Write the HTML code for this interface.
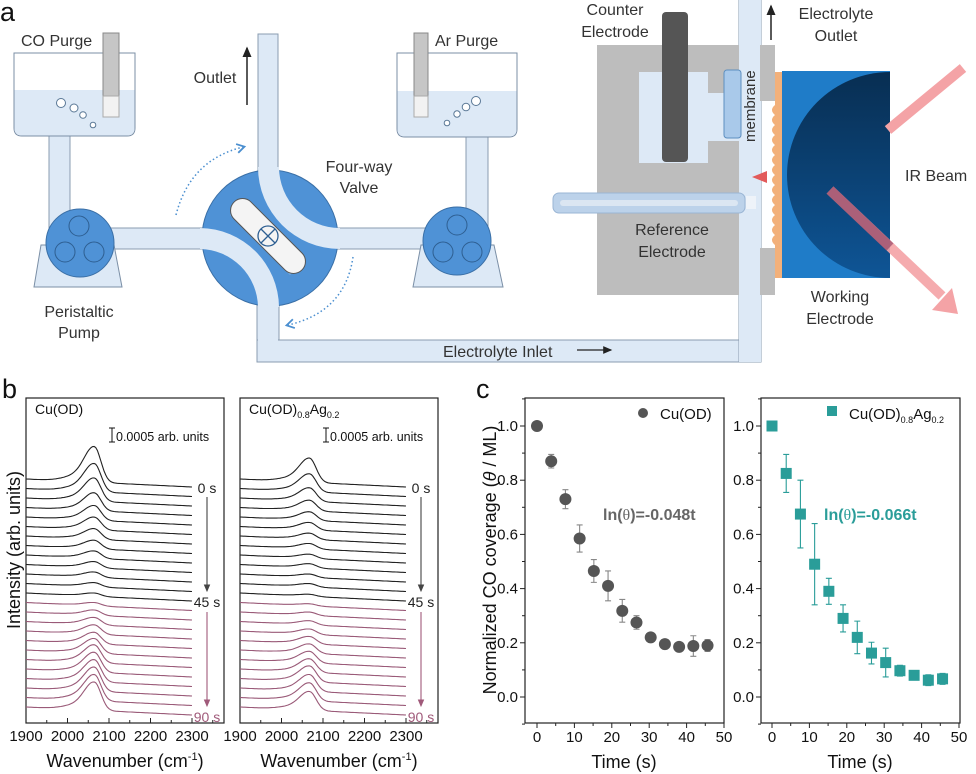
<!DOCTYPE html>
<html><head><meta charset="utf-8"><style>
html,body{margin:0;padding:0;background:#fff}
svg{display:block;font-family:"Liberation Sans",Arial,sans-serif}
</style></head><body>
<svg id="fig" width="976" height="774" viewBox="0 0 976 774" xmlns="http://www.w3.org/2000/svg">
<defs>
<linearGradient id="wg" x1="0" y1="0" x2="0" y2="1"><stop offset="0" stop-color="#082e52"/><stop offset="1" stop-color="#0e5596"/></linearGradient>
<marker id="ah" markerWidth="8" markerHeight="8" refX="6" refY="4" orient="auto"><path d="M0,1 L7,4 L0,7 z" fill="#222"/></marker>
<marker id="ahb" markerWidth="8" markerHeight="8" refX="5" refY="4" orient="auto"><path d="M1,1 L6,4 L1,7" fill="none" stroke="#4b8fd0" stroke-width="1.2"/></marker>
<marker id="ahp" markerWidth="8" markerHeight="8" refX="6" refY="4" orient="auto"><path d="M0,1 L7,4 L0,7 z" fill="#a05a7a"/></marker>
<marker id="ahg" markerWidth="8" markerHeight="8" refX="6" refY="4" orient="auto"><path d="M0,1 L7,4 L0,7 z" fill="#444"/></marker>
</defs>

<!-- PANEL A -->
<g font-size="16" fill="#333">
<text x="0" y="21" font-size="27" fill="#111">a</text>
<g fill="#dde9f6" stroke="#8a9cb0" stroke-width="1">
<rect x="49" y="134" width="21" height="95"/>
<rect x="466" y="135" width="22" height="95"/>
<rect x="110" y="228" width="95" height="21"/>
<rect x="330" y="228" width="100" height="21"/>
<rect x="258" y="34" width="20" height="140"/>
<rect x="257" y="300" width="22" height="62"/>
<rect x="257" y="340" width="504" height="22"/>
<rect x="739" y="0" width="22" height="362"/>
</g>
<rect x="258" y="338" width="20" height="5" fill="#dde9f6"/>
<rect x="740" y="338" width="20" height="24" fill="#dde9f6"/>
<g>
<path d="M14,53 H135 V128 Q135,136 127,136 H22 Q14,136 14,128 Z" fill="#fff" stroke="#7b8fa6"/>
<path d="M14.5,90 H134.5 V128 Q134.5,135.5 127,135.5 H22 Q14.5,135.5 14.5,128 Z" fill="#dde9f6"/>
<rect x="103" y="33" width="16" height="64" fill="#c6c6c6" stroke="#888"/>
<rect x="103" y="96" width="16" height="21" fill="#f2f2f2" stroke="#aaa"/>
<g fill="#fff" stroke="#5a7896"><circle cx="61" cy="103" r="4.5"/><circle cx="74" cy="108" r="4"/><circle cx="83" cy="115" r="3.3"/><circle cx="93" cy="125" r="2.8"/></g>
<text x="21" y="46">CO Purge</text>
</g>
<g>
<path d="M397,53 H517 V129 Q517,137 509,137 H405 Q397,137 397,129 Z" fill="#fff" stroke="#7b8fa6"/>
<path d="M397.5,91 H516.5 V129 Q516.5,136.5 509,136.5 H405 Q397.5,136.5 397.5,129 Z" fill="#dde9f6"/>
<rect x="414" y="33" width="14" height="64" fill="#c6c6c6" stroke="#888"/>
<rect x="414" y="96" width="14" height="21" fill="#f2f2f2" stroke="#aaa"/>
<g fill="#fff" stroke="#5a7896"><circle cx="476" cy="101" r="4.5"/><circle cx="466" cy="107" r="3.8"/><circle cx="457" cy="114" r="3.2"/><circle cx="447" cy="123" r="2.8"/></g>
<text x="435" y="46">Ar Purge</text>
</g>
<g>
<path d="M41,245 L34,287 L122,287 L114,245 Z" fill="#dde9f6" stroke="#7b8fa6"/>
<circle cx="80" cy="243" r="34" fill="#4f92d6" stroke="#3a6fa6"/>
<g fill="none" stroke="#2e5f92"><circle cx="79" cy="226" r="10"/><circle cx="65" cy="252" r="10"/><circle cx="94" cy="252" r="10"/></g>
<text x="79" y="317" text-anchor="middle">Peristaltic</text><text x="79" y="338" text-anchor="middle">Pump</text>
</g>
<g>
<path d="M421,245 L413,287 L503,287 L494,245 Z" fill="#dde9f6" stroke="#7b8fa6"/>
<circle cx="457" cy="241" r="34" fill="#4f92d6" stroke="#3a6fa6"/>
<g fill="none" stroke="#2e5f92"><circle cx="457" cy="225" r="10"/><circle cx="443" cy="252" r="10"/><circle cx="472" cy="252" r="10"/></g>
</g>
<g>
<circle cx="270" cy="238" r="68" fill="#4f92d6" stroke="#3a6fa6"/>
<path d="M258,167 A82,82 0 0 0 340,249 L340,228 A61,61 0 0 1 279,167 Z" fill="#dde9f6"/>
<path d="M200,228 A80,80 0 0 1 279,307 L258,307 A59,59 0 0 0 200,249 Z" fill="#dde9f6"/>
<path d="M240,205 L300,265 L290,275 L230,215 Z" fill="#8ab8e6" opacity="0.7"/>
<g transform="rotate(45 268 236)"><rect x="220" y="224" width="96" height="24" rx="12" fill="#f4f4f4" stroke="#555"/></g>
<circle cx="268" cy="236" r="10" fill="none" stroke="#2e5f92" stroke-width="1.3"/>
<path d="M261,229 L275,243 M275,229 L261,243" stroke="#2e5f92" stroke-width="1.3"/>
<path d="M176,215 Q190,160 243,147" fill="none" stroke="#4b8fd0" stroke-width="1.5" stroke-dasharray="1.5,2.5" marker-end="url(#ahb)"/>
<path d="M353,257 Q345,312 288,325" fill="none" stroke="#4b8fd0" stroke-width="1.5" stroke-dasharray="1.5,2.5" marker-end="url(#ahb)"/>
<text x="359" y="172" text-anchor="middle">Four-way</text><text x="359" y="193" text-anchor="middle">Valve</text>
</g>
<line x1="247" y1="105" x2="247" y2="48" stroke="#222" stroke-width="1.5" marker-end="url(#ah)"/>
<text x="215" y="83" text-anchor="middle">Outlet</text>
<text x="443" y="357">Electrolyte Inlet</text>
<line x1="577" y1="350" x2="611" y2="350" stroke="#222" stroke-width="1.3" marker-end="url(#ah)"/>
<g>
<rect x="597" y="45" width="142" height="250" fill="#bdbdbd"/>
<rect x="639" y="72" width="69" height="91" fill="#dde9f6"/>
<rect x="708" y="45" width="31" height="48" fill="#bdbdbd"/>
<rect x="708" y="93" width="31" height="48" fill="#dde9f6"/>
<rect x="739" y="0" width="22" height="362" fill="#dde9f6"/>
<rect x="760" y="45" width="15" height="56" fill="#bdbdbd"/>
<rect x="760" y="248" width="15" height="47" fill="#bdbdbd"/>
<rect x="662" y="12" width="26" height="150" rx="4" fill="#555"/>
<rect x="724" y="70" width="17" height="68" rx="3" fill="#a9c9ea" stroke="#5d8fc0"/>
<rect x="775" y="72" width="8" height="206" fill="#f2b07a"/>
<path d="M775,105 q-6,5 0,10 q-6,5 0,10 q-6,5 0,10 q-6,5 0,10 q-6,5 0,10 q-6,5 0,10 q-6,5 0,10 q-6,5 0,10 q-6,5 0,10 q-6,5 0,10 q-6,5 0,10 q-6,5 0,10 q-6,5 0,10 q-6,5 0,10" fill="#f2b07a"/>
<rect x="782" y="71" width="108" height="207" fill="#1f7cc8"/>
<path d="M890,72 A103,103 0 0 0 890,278 Z" fill="url(#wg)"/>
<path d="M752,177 L767,171 L767,183 Z" fill="#e25a5a"/>
<rect x="553" y="193" width="192" height="20" rx="6" fill="#bcd2ea" stroke="#9ab5d4"/>
<rect x="560" y="200" width="178" height="6" rx="3" fill="#dbe6f2"/>
<rect x="746" y="196" width="10" height="13" fill="#eef3f9"/>
<line x1="963" y1="68" x2="888" y2="130" stroke="#f4a3a6" stroke-width="10"/>
<line x1="830" y1="190" x2="942" y2="296" stroke="#f4a3a6" stroke-width="10" opacity="0.9"/>
<line x1="830" y1="190" x2="890" y2="247" stroke="#8b3a5e" stroke-width="10" opacity="0.6"/>
<path d="M932,310 L958,314 L952,288 Z" fill="#f4a3a6"/>
<line x1="771" y1="40" x2="771" y2="6" stroke="#222" stroke-width="1.5" marker-end="url(#ah)"/>
<text x="615" y="15" text-anchor="middle">Counter</text><text x="615" y="37" text-anchor="middle">Electrode</text>
<text x="836" y="19" text-anchor="middle">Electrolyte</text><text x="836" y="41" text-anchor="middle">Outlet</text>
<text x="672" y="235" text-anchor="middle">Reference</text><text x="672" y="257" text-anchor="middle">Electrode</text>
<text x="840" y="302" text-anchor="middle">Working</text><text x="840" y="324" text-anchor="middle">Electrode</text>
<text x="905" y="181">IR Beam</text>
<text transform="translate(755,142) rotate(-90)" font-size="15">membrane</text>
</g>
</g>

<g id="pb"></g>
<g id="pc"></g>
</svg>
<script>
// ---- panel b data: peak intensities (x1e-4 arb. units), 0..45 s then 45..90 s
const bBlackLeft = [12.1,9.6,7.9,6.1,5.0,4.3,3.6,2.9,2.5,2.1,1.8,1.4,1.1];
const bPurpleLeft = [1.1,1.8,2.5,3.2,3.9,5.0,6.1,6.8,7.5,8.2,8.9,9.6];
const bBlackRight = [8.2,6.1,4.6,3.6,2.9,2.5,2.1,1.8,1.4,1.4,1.1,1.1,0.7];
const bPurpleRight = [0.7,1.1,1.4,1.8,2.5,3.2,3.9,4.6,5.4,5.7,6.1,6.4];
const bTicks = [1900,2000,2100,2200,2300];
// ---- panel c data
const cTime = [0,3.8,7.6,11.4,15.2,19,22.8,26.6,30.4,34.2,38,41.8,45.6];
const cCuOD = [1.0,0.87,0.73,0.585,0.465,0.41,0.318,0.275,0.22,0.195,0.185,0.188,0.19];
const cCuODErr = [0,0.025,0.035,0.05,0.042,0.055,0.042,0.025,0.015,0.01,0.01,0.038,0.022];
const cCuAg = [1.0,0.825,0.675,0.49,0.39,0.29,0.22,0.162,0.127,0.097,0.08,0.062,0.067];
const cCuAgErr = [0,0.07,0.125,0.15,0.048,0.05,0.06,0.04,0.053,0.02,0.01,0.02,0.02];
const cYTicks = [0.0,0.2,0.4,0.6,0.8,1.0];
const cXTicks = [0,10,20,30,40,50];

const NS='http://www.w3.org/2000/svg';
function mk(tag,attrs,parent,txt){const e=document.createElementNS(NS,tag);for(const k in attrs)e.setAttribute(k,attrs[k]);if(txt!==undefined)e.textContent=txt;parent.appendChild(e);return e;}

const pb=document.getElementById('pb');
const lb=mk('text',{x:2,y:398,'font-size':27,fill:'#111'},pb,'b');


const yl=mk('text',{transform:'translate(20,550) rotate(-90)','text-anchor':'middle','font-size':18,fill:'#111'},pb,'Intensity (arb. units)');



function spectraPanel(x0,black,purple,title,center,isRight){
  const g=mk('g',{},pb);
  
  
  const xs=w=>x0+(w-1900)*0.415;
  const fr=mk('rect',{x:x0,y:398,width:198,height:325,fill:'none',stroke:'#222','stroke-width':1.2},g);
  
  
  for(let w=1900;w<=2375;w+=50){const maj=(w%100===0);mk('line',{x1:xs(w),x2:xs(w),y1:723,y2:723-(maj?5:3),stroke:'#222'},g);}
  bTicks.forEach(w=>{const t=mk('text',{x:xs(w),y:741,'text-anchor':'middle','font-size':15,fill:'#111'},g,String(w));
    
    });
  const xt=mk('text',{x:x0+99,y:767,'text-anchor':'middle','font-size':18,fill:'#111'},g);
  
  
  xt.innerHTML='Wavenumber (cm<tspan dy="-7" font-size="11">-1</tspan><tspan dy="7">)</tspan>';
  const tt=mk('text',{x:x0+9,y:414,'font-size':14,fill:'#111'},g);
  
  
  tt.innerHTML=title;
  const sb=x0+86;
  mk('path',{d:`M${sb-3},428 H${sb+3} M${sb},428 V442 M${sb-3},442 H${sb+3}`,stroke:'#111',fill:'none'},g);
  const st=mk('text',{x:sb+4,y:441,'font-size':12.5,fill:'#111'},g,'0.0005 arb. units');
  
  
  const all=black.map(v=>[v,'#222']).concat(purple.map(v=>[v,'#9a5a78']));
  all.forEach((a,i)=>{
    let d='';
    for(let w=1900;w<=2300;w+=4){
      const s=w<center?34:22;
      const p=Math.exp(-Math.pow((w-center)/s,2))+0.15*Math.exp(-Math.pow((w-center+45)/45,2));
      const y=479+i*9.5+8*(w-1900)/400-a[0]*2.8*p;
      d+=(w===1900?'M':'L')+xs(w).toFixed(1)+','+y.toFixed(1);
    }
    const pth=mk('path',{d:d,fill:'none',stroke:a[1],'stroke-width':1.1},g);
    
    
  });
  const lx=xs(2300)+15;
  const t0=mk('text',{x:lx,y:493,'text-anchor':'middle','font-size':14,fill:'#222'},g,'0 s');
  
  
  mk('line',{x1:lx,y1:497,x2:lx,y2:591,stroke:'#444','stroke-width':1.1,'marker-end':'url(#ahg)'},g);
  const t45=mk('text',{x:lx,y:607,'text-anchor':'middle','font-size':14,fill:'#222'},g,'45 s');
  
  
  mk('line',{x1:lx,y1:612,x2:lx,y2:706,stroke:'#a05a7a','stroke-width':1.1,'marker-end':'url(#ahp)'},g);
  const t90=mk('text',{x:lx,y:722,'text-anchor':'middle','font-size':14,fill:'#a05a7a'},g,'90 s');
  
  
}
spectraPanel(26,bBlackLeft,bPurpleLeft,'Cu(OD)',2065,false);
spectraPanel(240,bBlackRight,bPurpleRight,'Cu(OD)<tspan dy="4" font-size="9">0.8</tspan><tspan dy="-4">Ag</tspan><tspan dy="4" font-size="9">0.2</tspan>',2068,true);

const pc=document.getElementById('pc');
const lc=mk('text',{x:476,y:398,'font-size':27,fill:'#111'},pc,'c');


const cyl=mk('text',{transform:'translate(496,560) rotate(-90)','text-anchor':'middle','font-size':18,fill:'#111'},pc);


cyl.innerHTML='Normalized CO coverage (<tspan font-style="italic">θ</tspan> / ML)';

function covPanel(fx,x0,vals,errs,color,square,legendHTML,eq,isRight){
  const g=mk('g',{},pc);
  
  
  const xs=t=>x0+t*3.74, ys=v=>697-v*271;
  const fr=mk('rect',{x:fx,y:398,width:199,height:325,fill:'none',stroke:'#222','stroke-width':1.2},g);
  
  
  for(let k=-1;k<=11;k++){const v=k/10;const maj=(k%2===0&&k>=0);mk('line',{x1:fx,x2:fx-(maj?5:3),y1:ys(v),y2:ys(v),stroke:'#222'},g);}
  for(let t=0;t<=50;t+=5){const maj=(t%10===0);mk('line',{x1:xs(t),x2:xs(t),y1:723,y2:723+(maj?5:3),stroke:'#222'},g);}
  cYTicks.forEach(v=>{const e=mk('text',{x:fx-7,y:ys(v)+5,'text-anchor':'end','font-size':15,fill:'#111'},g,v.toFixed(1));
    
    });
  cXTicks.forEach(t=>{const e=mk('text',{x:xs(t),y:742,'text-anchor':'middle','font-size':15,fill:'#111'},g,String(t));
    
    });
  const xt=mk('text',{x:fx+99,y:768,'text-anchor':'middle','font-size':18,fill:'#111'},g,'Time (s)');
  
  
  cTime.forEach((t,i)=>{
    if(errs[i]>0){
      const ec=square?color:'#888';
      const eb=mk('path',{d:`M${xs(t)},${ys(vals[i]-errs[i])} V${ys(vals[i]+errs[i])} M${xs(t)-3},${ys(vals[i]-errs[i])} H${xs(t)+3} M${xs(t)-3},${ys(vals[i]+errs[i])} H${xs(t)+3}`,stroke:ec,'stroke-width':1.1,fill:'none'},g);
      
      
    }
    let m;
    if(square) m=mk('rect',{x:xs(t)-5.5,y:ys(vals[i])-5.5,width:11,height:11,fill:color},g);
    else m=mk('circle',{cx:xs(t),cy:ys(vals[i]),r:6,fill:color},g);
    
    
  });
  const lg=mk('g',{},g);
  
  
  if(square) mk('rect',{x:fx+66,y:406,width:10,height:10,fill:color},lg);
  else mk('circle',{cx:fx+118,cy:413,r:5,fill:color},lg);
  const ltx=mk('text',{x:square?fx+88:fx+135,y:419,'font-size':15,fill:'#111'},lg);
  ltx.innerHTML=legendHTML;
  const et=mk('text',{x:square?fx+63:fx+78,y:520,'font-size':16,'font-weight':'bold',fill:square?color:'#666'},g);
  
  
  et.innerHTML=eq;
}
covPanel(525,537,cCuOD,cCuODErr,'#555',false,'Cu(OD)','ln(<tspan font-family="Liberation Serif" font-weight="normal">θ</tspan>)=-0.048t',false);
covPanel(761,772,cCuAg,cCuAgErr,'#2a9d99',true,'Cu(OD)<tspan dy="4" font-size="9">0.8</tspan><tspan dy="-4">Ag</tspan><tspan dy="4" font-size="9">0.2</tspan>','ln(<tspan font-family="Liberation Serif" font-weight="normal">θ</tspan>)=-0.066t',true);
</script>
</body></html>
